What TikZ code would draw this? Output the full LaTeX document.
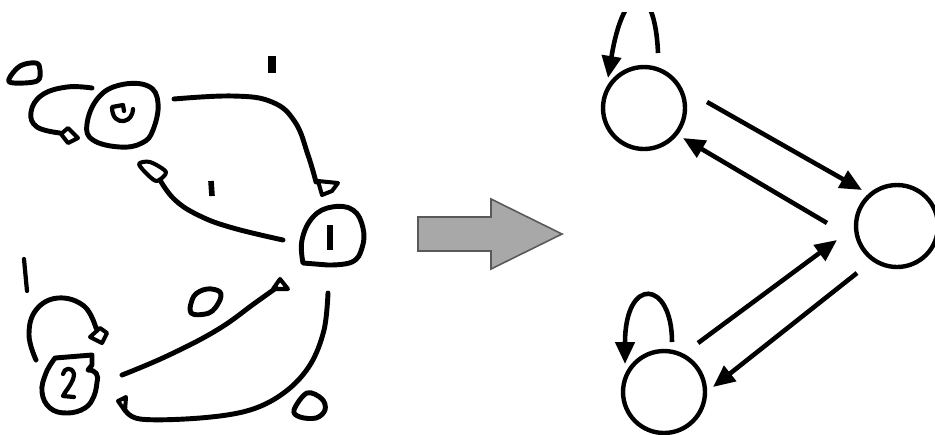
\documentclass[tikz,border=0pt]{standalone}
\usetikzlibrary{arrows.meta,calc}
\begin{document}
\begin{tikzpicture}[x=0.02cm,y=-0.02cm,
  hand/.style={line width=2.8pt,line cap=round,line join=round,black},
  tick/.style={line width=4.4pt,line cap=butt,black},
  state/.style={circle,draw,line width=2.5pt,minimum size=1.64cm,inner sep=0pt},
  edge/.style={line width=2.6pt,-{Triangle[length=0.44cm,width=0.38cm]}},
  bigarrow/.style={fill=black!34,draw=black!65,line width=0.9pt}]
\useasboundingbox (0,0) rectangle (935,434);
\fill[white] (0,0) rectangle (935,434);
% ---------------- hand-drawn sketch ----------------
% node D (top)
\draw[hand] plot[smooth cycle,tension=0.7] coordinates {(87,124) (98,98) (120,85) (148,86) (158,103) (153,130) (142,143) (120,147) (93,140)};
\draw[hand,line width=2.4pt] (124,111) -- (123,105) -- (112,107) .. controls (112,118) and (118,122) .. (124,121) .. controls (130,120) and (133,114) .. (133,109);
% self loop of D
\draw[hand] plot[smooth,tension=0.7] coordinates {(92,88) (67,87) (42,95) (31,112) (37,127) (60,133)};
\draw[hand,line width=2.3pt] (61,134) -- (68,128) -- (78,138) -- (68,143) -- cycle;
% blob top-left
\draw[hand] plot[smooth cycle,tension=0.6] coordinates {(9,79) (20,66) (36,63) (40,70) (37,81) (14,83)};
% D -> 1
\draw[hand] plot[smooth,tension=0.7] coordinates {(174,99) (233,96) (272,102) (295,122) (308,155) (316,182)};
\draw[hand,line width=2.3pt] (318,181) -- (338,183) -- (332,191) -- (322,195) -- cycle;
\draw[tick] (272,56) -- (272,73);
% 1 -> D
\draw[hand] plot[smooth,tension=0.7] coordinates {(160,180) (175,200) (200,216) (233,228) (283,240)};
\draw[hand,line width=2.3pt] plot[smooth cycle,tension=0.5] coordinates {(139,164) (150,162) (166,172) (157,181) (148,175)};
\draw[tick,line width=3.2pt] (211,181) -- (212,196);
% node 1
\draw[hand] (303,263) -- plot[smooth,tension=0.7] coordinates {(303,263) (302,240) (313,217) (332,207) (353,210) (363,228) (362,248) (352,262) (328,265)} -- cycle;
\fill (327,225) rectangle (333,250);
% 2 -> 1
\draw[hand] plot[smooth,tension=0.7] coordinates {(122,375) (167,356) (217,330) (255,303) (276,288)};
\draw[hand,line width=2.3pt] (273,289) -- (280,279) -- (288,289) -- cycle;
\draw[hand] plot[smooth cycle,tension=0.6] coordinates {(191,313) (194,296) (207,289) (220,292) (219,302) (209,313)};
% 1 -> 2
\draw[hand] plot[smooth,tension=0.6] coordinates {(328,293) (324,330) (310,365) (285,392) (250,410) (200,418) (140,419) (124,408)};
\draw[hand,line width=2.3pt] (118,401) -- (126,397) -- (125,411) -- cycle;
\draw[hand] plot[smooth cycle,tension=0.6] coordinates {(294,410) (307,393) (322,399) (325,410) (316,418) (300,417)};
% self loop of 2
\draw[hand,line width=2.4pt] (24,259) -- (27,291);
\draw[hand] plot[smooth,tension=0.7] coordinates {(36,360) (29,335) (36,310) (58,298) (84,306) (96,328)};
\draw[hand,line width=2.3pt] (90,337) -- (100,328) -- (107,333) -- (102,343) -- cycle;
% node 2
\draw[hand] (55,358) -- (92,355) -- (92,365) -- (88,370) .. controls (96,370) and (99,375) .. (97,382) -- plot[smooth,tension=0.7] coordinates {(97,382) (94,396) (85,408) (67,413) (50,408) (42,392) (46,373) (55,358)};
\draw[hand,line width=2.4pt] (63,374) .. controls (64,368) and (72,366) .. (74,374) .. controls (74,382) and (66,390) .. (63,396) -- (74,397);
% ---------------- big arrow ----------------
\draw[bigarrow] (418,217) -- (491,217) -- (491,199) -- (562,234) -- (491,269) -- (491,251) -- (418,251) -- cycle;
% ---------------- clean graph ----------------
\node[state] (T) at (644,108) {};
\node[state] (R) at (897,226) {};
\node[state] (B) at (664,392) {};
\draw[edge] ([shift={(63,-6)}]T.center) -- ([shift={(-35,-36)}]R.center);
\draw[edge] ([shift={(-70,-3)}]R.center) -- ([shift={(39,30)}]T.center);
\draw[edge] ([shift={(34,-49)}]B.center) -- ([shift={(-60,14)}]R.center);
\draw[edge] ([shift={(-40,47)}]R.center) -- ([shift={(49,-5)}]B.center);
\begin{scope}
\clip (0,12) rectangle (935,434);
\draw[edge] ([shift={(14,-55)}]T.center) .. controls ([shift={(11,-128)}]T.center) and ([shift={(-20,-128)}]T.center) .. ([shift={(-36,-30)}]T.center);
\end{scope}
\draw[edge] ([shift={(8,-50)}]B.center) .. controls ([shift={(8,-112)}]B.center) and ([shift={(-39,-117)}]B.center) .. ([shift={(-39,-28)}]B.center);
\end{tikzpicture}
\end{document}
